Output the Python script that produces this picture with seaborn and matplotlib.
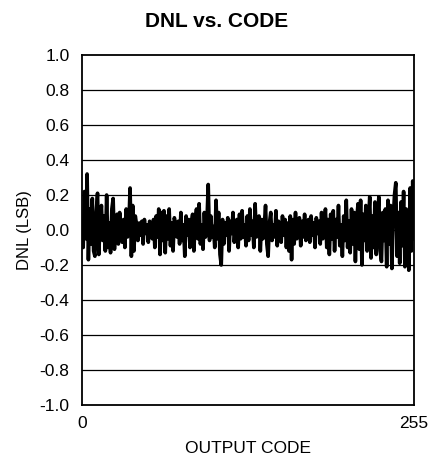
import numpy as np
import pandas as pd
import matplotlib
matplotlib.use("Agg")
import matplotlib.pyplot as plt
import seaborn as sns

sns.set_style("white")
plt.rcParams['font.family'] = ['Liberation Sans', 'DejaVu Sans']
plt.rcParams['text.color'] = "black"
plt.rcParams['axes.labelcolor'] = "black"

# DNL, one value per output code (0..255)
dnl_000 = [0.05, -0.10, 0.22, -0.05, 0.32, -0.17, 0.12, -0.08, 0.18, -0.12, -0.15, 0.10, 0.21, -0.14, 0.05, 0.14,
           -0.06, 0.08, -0.12, 0.20, -0.10, 0.04, -0.13, 0.12, 0.18, -0.11, 0.02, 0.09, -0.08, 0.10, 0.00, -0.07]
dnl_032 = [0.06, -0.10, 0.12, -0.04, 0.02, 0.24, -0.15, 0.14, -0.12, 0.08, 0.03, -0.06, 0.04, -0.03, 0.05, -0.08,
           0.06, -0.02, 0.03, -0.07, 0.05, 0.02, -0.05, 0.06, -0.10, 0.08, -0.04, 0.12, -0.14, 0.10, -0.06, 0.11]
dnl_064 = [-0.13, 0.08, -0.05, 0.12, -0.09, 0.04, -0.12, 0.07, 0.02, -0.04, 0.05, -0.08, 0.10, -0.06, 0.03, -0.15,
           0.08, -0.03, 0.06, -0.10, 0.04, 0.09, -0.12, 0.06, 0.12, -0.05, 0.15, -0.08, 0.03, -0.11, 0.10, -0.04]
dnl_096 = [0.05, 0.26, -0.06, 0.08, -0.04, 0.02, -0.10, 0.17, -0.05, 0.10, -0.14, -0.20, 0.06, -0.08, 0.04, -0.03,
           0.07, -0.12, 0.05, -0.02, 0.10, -0.07, 0.02, 0.06, -0.10, 0.09, -0.05, 0.11, -0.04, 0.03, -0.09, 0.08]
dnl_128 = [-0.06, 0.12, -0.03, 0.05, -0.10, 0.15, -0.04, 0.03, 0.08, -0.12, 0.06, -0.05, 0.02, 0.14, -0.08, -0.15,
           0.04, 0.10, -0.06, 0.03, -0.04, 0.11, -0.09, 0.05, 0.02, -0.07, 0.08, -0.03, 0.06, -0.10, 0.04, -0.12]
dnl_160 = [0.08, -0.17, 0.06, -0.08, 0.10, -0.05, 0.03, 0.07, -0.09, 0.05, -0.04, 0.09, -0.06, 0.02, 0.06, -0.07,
           0.08, -0.03, 0.04, -0.10, 0.07, -0.02, 0.05, -0.08, 0.10, -0.05, 0.03, 0.12, -0.10, 0.06, -0.14, 0.09]
dnl_192 = [-0.05, 0.11, -0.12, 0.06, -0.04, 0.14, -0.09, 0.03, -0.15, 0.08, -0.06, 0.17, -0.10, 0.05, -0.13, 0.12,
           -0.08, 0.10, -0.18, 0.06, 0.15, -0.11, 0.17, -0.20, 0.09, -0.06, 0.14, -0.12, 0.05, 0.19, -0.16, 0.08]
dnl_224 = [-0.10, 0.16, -0.14, 0.07, 0.19, -0.12, -0.18, 0.10, -0.06, 0.12, -0.21, 0.17, -0.08, 0.14, -0.22, 0.06,
           0.20, 0.27, -0.15, 0.10, -0.19, 0.16, -0.09, 0.22, -0.21, 0.12, 0.05, -0.23, 0.24, -0.12, 0.28, -0.05]

dnl = dnl_000 + dnl_032 + dnl_064 + dnl_096 + dnl_128 + dnl_160 + dnl_192 + dnl_224
codes = list(range(len(dnl)))

y_ticks = [1.0, 0.8, 0.6, 0.4, 0.2, 0.0, -0.2, -0.4, -0.6, -0.8, -1.0]
x_ticks = [0, 255]

df = pd.DataFrame({"code": codes, "dnl": dnl})

fig = plt.figure(figsize=(4.31, 4.68), dpi=100)
ax = fig.add_axes([0.190, 0.1346, 0.7706, 0.7479])

for v in y_ticks[1:-1]:
    ax.axhline(v, color="black", lw=0.9, zorder=1)

sns.lineplot(data=df, x="code", y="dnl", ax=ax, color="black", lw=2.6, zorder=3)

ax.set_xlim(0, 255)
ax.set_ylim(-1.0, 1.0)
ax.set_xticks(x_ticks)
ax.set_yticks(y_ticks)
ax.set_yticklabels([f"{v:.1f}" for v in y_ticks])
ax.tick_params(length=0, labelsize=12.5, colors="black", labelcolor="black")
ax.tick_params(axis="y", pad=9)
ax.tick_params(axis="x", pad=8)

for s in ax.spines.values():
    s.set_color("black")
    s.set_linewidth(1.3)

ax.set_xlabel("OUTPUT CODE", fontsize=12.5, labelpad=7)
ax.set_ylabel("DNL (LSB)", fontsize=12, labelpad=5)
fig.suptitle("DNL vs. CODE", fontsize=15, fontweight="bold", x=0.503, y=0.975)

fig.savefig("out.png", dpi=100)
